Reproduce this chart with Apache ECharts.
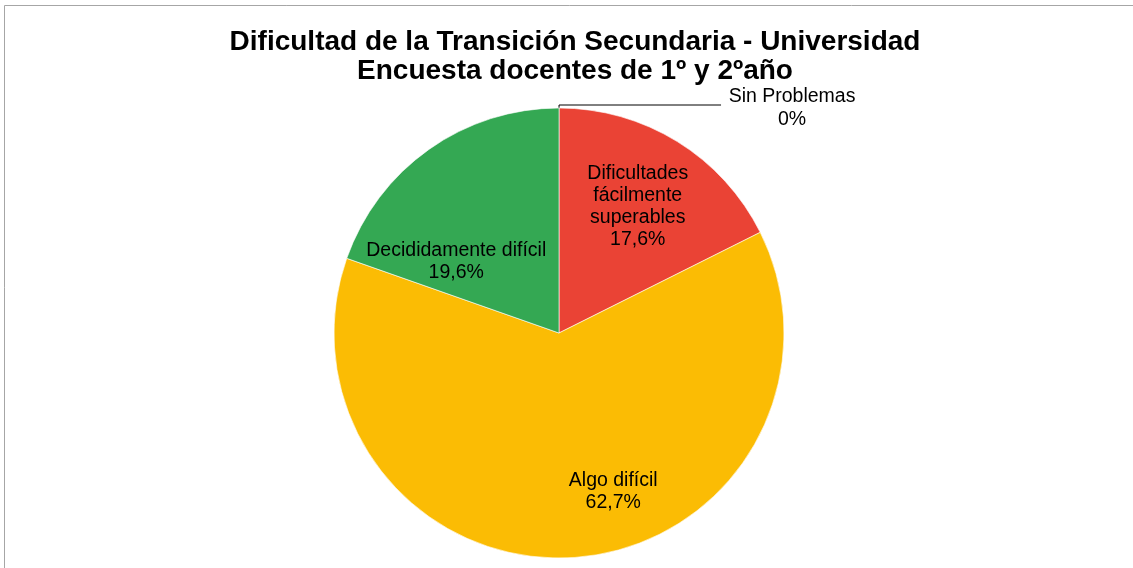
<!DOCTYPE html>
<html>
<head>
<meta charset="utf-8">
<script src="https://cdn.jsdelivr.net/npm/echarts@6/dist/echarts.min.js"></script>
<style>
  html, body { margin: 0; padding: 0; background: #fff; }
  #chart { width: 1133px; height: 568px; }
</style>
</head>
<body>
<div id="chart"></div>
<script>
const categories = ["Sin Problemas", "Dificultades\nfácilmente\nsuperables", "Algo difícil", "Decididamente difícil"];
const percents = [0, 17.6, 62.7, 19.6];
const sliceColors = ["#ffffff", "#ea4335", "#fbbc04", "#34a853"];

// label nudges (Excel "best fit" puts them off the mid radius)
const labelShift = [[0, 3], [18, -28], [47, 43], [-36, 23]];

const FONT = 'Arial, "Liberation Sans", sans-serif';

const fmtPct = (v) => (v === 0 ? "0%" : v.toFixed(1).replace(".", ",") + "%");

const pieData = categories.map((name, i) => {
  const item = {
    name: name,
    value: percents[i],
    itemStyle: { color: sliceColors[i] }
  };
  if (percents[i] === 0) {
    item.label = {
      position: "outside",
      formatter: (p) => "{a|" + p.name + "}\n{a|" + fmtPct(p.value) + "}",
      rich: {
        a: { width: 132, align: "center", fontSize: 19.5, lineHeight: 23, color: "#000", fontFamily: FONT }
      }
    };
    item.labelLine = { show: true, length: 3, length2: 162, lineStyle: { color: "#000", width: 1 } };
  }
  return item;
});

const chart = echarts.init(document.getElementById("chart"));

chart.setOption({
  backgroundColor: "#fff",
  animation: false,
  title: {
    text: "Dificultad de la Transición Secundaria - Universidad\nEncuesta docentes de 1º y 2ºaño",
    left: 570,
    top: 23,
    textAlign: "center",
    textStyle: { fontFamily: FONT, fontSize: 28, fontWeight: "bold", color: "#000", lineHeight: 29 }
  },
  graphic: [
    {
      type: "rect",
      shape: { x: 4.5, y: 5.5, width: 1200, height: 700 },
      style: { fill: "none", stroke: "#a6a6a6", lineWidth: 1 },
      silent: true
    }
  ],
  series: [
    {
      type: "pie",
      center: [559, 333],
      radius: 225,
      startAngle: 89.99,
      clockwise: true,
      avoidLabelOverlap: false,
      minShowLabelAngle: 0,
      itemStyle: { borderColor: "#fff", borderWidth: 0.6 },
      label: {
        show: true,
        position: "inside",
        formatter: (p) => p.name + "\n" + fmtPct(p.value),
        fontFamily: FONT,
        fontSize: 19.5,
        lineHeight: 22,
        color: "#000",
        textBorderWidth: 0
      },
      labelLine: { show: false },
      labelLayout: (params) => {
        const s = labelShift[params.dataIndex];
        return { dx: s[0], dy: s[1] };
      },
      emphasis: { disabled: true },
      data: pieData
    }
  ]
});
</script>
</body>
</html>
